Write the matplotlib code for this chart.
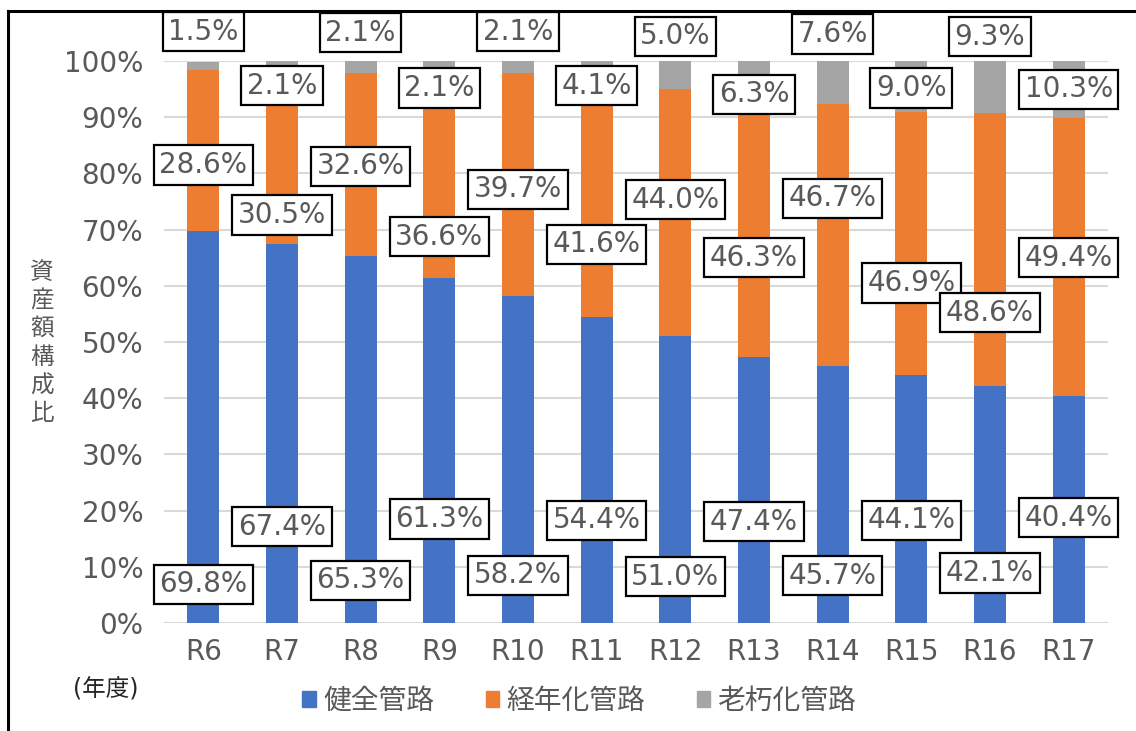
import matplotlib
matplotlib.use("Agg")
import matplotlib.pyplot as plt
from matplotlib.lines import Line2D
from matplotlib.patches import Rectangle
import numpy as np

plt.rcParams['font.family'] = ['DejaVu Sans', 'Noto Sans CJK JP']

# Data: asset composition ratio by fiscal year (%)
years = ["R6", "R7", "R8", "R9", "R10", "R11", "R12", "R13", "R14", "R15", "R16", "R17"]
healthy = [69.8, 67.4, 65.3, 61.3, 58.2, 54.4, 51.0, 47.4, 45.7, 44.1, 42.1, 40.4]
aging = [28.6, 30.5, 32.6, 36.6, 39.7, 41.6, 44.0, 46.3, 46.7, 46.9, 48.6, 49.4]
old = [1.5, 2.1, 2.1, 2.1, 2.1, 4.1, 5.0, 6.3, 7.6, 9.0, 9.3, 10.3]
series_names = ["健全管路", "経年化管路", "老朽化管路"]
yticks = [0, 10, 20, 30, 40, 50, 60, 70, 80, 90, 100]

# Label placement (vertical position of each value box, in % units)
healthy_label_y = [6.9, 17.1, 7.6, 18.5, 8.5, 18.3, 8.2, 18.0, 8.4, 18.3, 8.9, 18.7]
aging_label_y = [81.5, 72.6, 81.3, 68.7, 77.2, 67.4, 75.3, 65.0, 75.6, 60.5, 55.2, 65.0]
old_label_y = [105.2, 95.6, 105.0, 95.2, 105.2, 95.6, 104.4, 94.1, 104.8, 95.2, 104.3, 95.0]

colors = ["#4472C4", "#ED7D31", "#A5A5A5"]
text_gray = "#595959"

W, H = 1136, 731
fig = plt.figure(figsize=(W / 100, H / 100), dpi=100)
ax = fig.add_axes([164 / W, 1 - 623 / H, (1108 - 164) / W, (623 - 61) / H])

x = np.arange(len(years))
bw = 0.41
h = np.array(healthy)
a = np.array(aging)
o = np.array(old)
ax.bar(x, h, bw, color=colors[0], zorder=2)
ax.bar(x, a, bw, bottom=h, color=colors[1], zorder=2)
ax.bar(x, o, bw, bottom=h + a, color=colors[2], zorder=2)

ax.set_xlim(-0.5, len(years) - 0.5)
ax.set_ylim(0, 100)
ax.set_yticks(yticks)
ax.set_yticklabels([f"{t}%" for t in yticks])
ax.set_xticks(x)
ax.set_xticklabels(years)
ax.tick_params(axis='both', length=0, labelsize=20, colors=text_gray)
ax.tick_params(axis='y', pad=15)
ax.tick_params(axis='x', pad=11)
ax.grid(axis='y', color="#D9D9D9", linewidth=1.5, zorder=0)
for s in ax.spines.values():
    s.set_visible(False)

box = dict(boxstyle="square,pad=0.2", facecolor="white", edgecolor="black", linewidth=1.6)
for vals, ys in ((healthy, healthy_label_y), (aging, aging_label_y), (old, old_label_y)):
    for xi, v, yy in zip(x, vals, ys):
        ax.text(xi, yy, f"{v:.1f}%", ha="center", va="center", fontsize=20,
                color=text_gray, bbox=box, zorder=5, clip_on=False)

# Vertical y-axis title
fig.text(42 / W, 1 - 343 / H, "資\n産\n額\n構\n成\n比", ha="center", va="center",
         fontsize=17, color=text_gray, linespacing=1.22)

# Unit label under the axis
fig.text(106 / W, 1 - 690 / H, "(年度)", ha="center", va="center", fontsize=17, color="#262626")

# Legend
handles = [Rectangle((0, 0), 1, 1, color=c) for c in colors]
fig.legend(handles, series_names, loc="center", bbox_to_anchor=(0.51, 1 - 701 / H),
           ncol=3, frameon=False, fontsize=20, labelcolor=text_gray,
           handlelength=0.48, handleheight=0.48, handletextpad=0.27, columnspacing=1.85)

# Outer frame (top and left edges)
fig.add_artist(Line2D([8 / W, 1.0], [1 - 11 / H, 1 - 11 / H], color="black", linewidth=2.2,
                      transform=fig.transFigure))
fig.add_artist(Line2D([8 / W, 8 / W], [1 - 11 / H, 0.0], color="black", linewidth=2.2,
                      transform=fig.transFigure))

fig.savefig("out.png", dpi=100, facecolor="white")
